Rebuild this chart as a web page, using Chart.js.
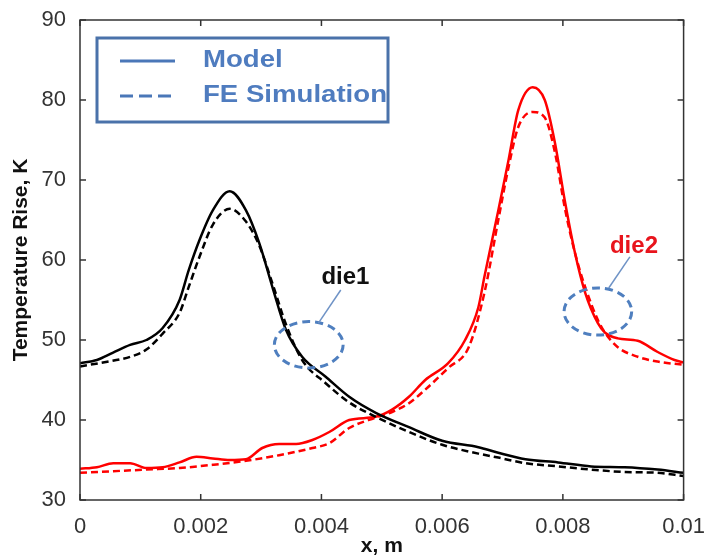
<!DOCTYPE html>
<html>
<head>
<meta charset="utf-8">
<script src="https://cdn.jsdelivr.net/npm/chart.js@4"></script>
<style>
  body { margin: 0; background: #fff; }
  canvas { display: block; }
</style>
</head>
<body>
<canvas id="myChart" width="711" height="559"></canvas>
<script>
// die1 - model (solid) and FE simulation (dashed)
var die1ModelX = [0, 0.00028, 0.00054, 0.00083, 0.0011, 0.00137, 0.00165, 0.0018, 0.00198, 0.0022, 0.00248, 0.00275, 0.00297, 0.0032, 0.00341, 0.00368, 0.00407, 0.00446, 0.0049, 0.00545, 0.006, 0.0066, 0.00693, 0.00738, 0.00792, 0.00847, 0.00902, 0.00957, 0.01];
var die1ModelY = [47.1, 47.5, 48.4, 49.4, 50.0, 51.5, 55.0, 58.7, 62.5, 66.2, 68.6, 66.2, 62.1, 56.3, 51.3, 47.9, 45.4, 42.9, 40.9, 39.1, 37.4, 36.6, 35.9, 35.1, 34.7, 34.2, 34.1, 33.8, 33.4];
var die1FeX = [0, 0.00054, 0.00083, 0.0011, 0.00137, 0.00165, 0.0018, 0.00198, 0.0022, 0.00248, 0.00275, 0.00297, 0.0032, 0.00341, 0.00368, 0.00407, 0.00446, 0.0049, 0.00545, 0.006, 0.0066, 0.00693, 0.00738, 0.00792, 0.00847, 0.00902, 0.00957, 0.01];
var die1FeY = [46.7, 47.4, 47.9, 48.8, 50.8, 53.4, 56.6, 60.4, 64.4, 66.4, 64.8, 61.8, 56.8, 52.0, 47.5, 44.6, 42.2, 40.4, 38.5, 36.9, 35.8, 35.3, 34.6, 34.2, 33.8, 33.5, 33.4, 33.0];

// die2
var die2ModelX = [0, 0.00028, 0.00055, 0.00083, 0.0011, 0.00137, 0.00165, 0.00193, 0.0022, 0.00248, 0.00275, 0.00302, 0.0033, 0.00358, 0.00385, 0.00413, 0.00446, 0.0049, 0.00517, 0.00545, 0.00572, 0.0061, 0.00638, 0.0066, 0.0067, 0.00693, 0.0071, 0.00726, 0.0075, 0.0077, 0.00787, 0.00803, 0.0082, 0.00837, 0.00858, 0.0087, 0.00891, 0.00924, 0.00957, 0.00985, 0.01];
var die2ModelY = [33.9, 34.1, 34.6, 34.6, 34.0, 34.1, 34.7, 35.4, 35.2, 35.0, 35.1, 36.5, 37.0, 37.0, 37.5, 38.5, 40.0, 40.4, 41.3, 42.9, 45.0, 47.1, 50.0, 54.1, 57.9, 66.2, 72.5, 78.7, 81.6, 80.0, 74.6, 67.5, 60.9, 55.9, 52.1, 50.9, 50.2, 49.9, 48.5, 47.5, 47.2];
var die2FeX = [0, 0.00055, 0.0011, 0.00165, 0.0022, 0.00275, 0.0033, 0.00385, 0.00413, 0.00446, 0.0049, 0.00517, 0.00545, 0.00572, 0.0061, 0.00644, 0.0067, 0.00693, 0.0071, 0.00726, 0.0075, 0.0077, 0.00787, 0.00803, 0.0082, 0.00837, 0.00858, 0.0087, 0.00891, 0.00924, 0.00957, 0.01];
var die2FeY = [33.4, 33.6, 33.8, 34.0, 34.4, 34.9, 35.6, 36.5, 37.1, 39.0, 40.3, 41.0, 42.1, 43.8, 46.5, 49.1, 55.9, 65.0, 71.6, 76.6, 78.5, 77.8, 73.4, 66.6, 60.9, 56.6, 52.5, 50.9, 49.1, 47.9, 47.3, 46.9];

var xTicks = [0, 0.002, 0.004, 0.006, 0.008, 0.01];
var yTicks = [30, 40, 50, 60, 70, 80, 90];
var legendLabels = ["Model", "FE Simulation"];
var dieLabels = ["die1", "die2"];

function toPoints(xs, ys) {
    return xs.map(function (x, i) { return { x: x, y: ys[i] }; });
}

function series(label, xs, ys, color, dashed) {
    return {
        label: label,
        data: toPoints(xs, ys),
        borderColor: color,
        backgroundColor: color,
        borderWidth: 2.5,
        borderDash: dashed ? [7, 4] : [],
        pointRadius: 0,
        cubicInterpolationMode: "monotone",
        fill: false,
    };
}

// box with inward ticks, callouts and the legend, drawn on top
var decorations = {
    id: "decorations",
    afterDatasetsDraw: function (chart) {
        var ctx = chart.ctx;
        var a = chart.chartArea;
        var sx = chart.scales.x, sy = chart.scales.y;
        ctx.save();

        // frame
        ctx.strokeStyle = "#333";
        ctx.lineWidth = 1.5;
        ctx.setLineDash([]);
        ctx.strokeRect(a.left, a.top, a.right - a.left, a.bottom - a.top);
        ctx.beginPath();
        xTicks.forEach(function (v) {
            var p = sx.getPixelForValue(v);
            ctx.moveTo(p, a.bottom); ctx.lineTo(p, a.bottom - 6);
            ctx.moveTo(p, a.top); ctx.lineTo(p, a.top + 6);
        });
        yTicks.forEach(function (v) {
            var p = sy.getPixelForValue(v);
            ctx.moveTo(a.left, p); ctx.lineTo(a.left + 6, p);
            ctx.moveTo(a.right, p); ctx.lineTo(a.right - 6, p);
        });
        ctx.stroke();

        // callout ellipses + leader lines
        var blue = "#4f7fbf";
        function ellipse(cx, cy, rx, ry) {
            var px = sx.getPixelForValue(cx), py = sy.getPixelForValue(cy);
            var rpx = sx.getPixelForValue(cx + rx) - px;
            var rpy = py - sy.getPixelForValue(cy + ry);
            ctx.beginPath();
            ctx.strokeStyle = blue;
            ctx.lineWidth = 3;
            ctx.setLineDash([8, 5]);
            ctx.ellipse(px, py, rpx, rpy, 0, 0, Math.PI * 2);
            ctx.stroke();
        }
        function leader(x1, y1, x2, y2) {
            ctx.beginPath();
            ctx.setLineDash([]);
            ctx.strokeStyle = "#6f93c6";
            ctx.lineWidth = 1.5;
            ctx.moveTo(sx.getPixelForValue(x1), sy.getPixelForValue(y1));
            ctx.lineTo(sx.getPixelForValue(x2), sy.getPixelForValue(y2));
            ctx.stroke();
        }
        ellipse(0.00379, 49.4, 0.00057, 2.9);
        leader(0.00395, 52.1, 0.00432, 56.25);
        ellipse(0.00858, 53.56, 0.00056, 2.95);
        leader(0.00876, 56.5, 0.00911, 60.4);

        ctx.font = "bold 24px 'Liberation Sans', Arial, sans-serif";
        ctx.textBaseline = "alphabetic";
        ctx.textAlign = "left";
        ctx.fillStyle = "#111";
        ctx.fillText(dieLabels[0], sx.getPixelForValue(0.0040), sy.getPixelForValue(57.0));
        ctx.fillStyle = "#e8141c";
        ctx.fillText(dieLabels[1], sx.getPixelForValue(0.00878), sy.getPixelForValue(60.9));

        // legend box
        var lx = a.left + 17, ly = a.top + 18;
        ctx.setLineDash([]);
        ctx.fillStyle = "#fff";
        ctx.fillRect(lx, ly, 291, 84);
        ctx.strokeStyle = "#4a72aa";
        ctx.lineWidth = 3;
        ctx.strokeRect(lx, ly, 291, 84);
        ctx.strokeStyle = "#4a77b8";
        ctx.beginPath();
        ctx.moveTo(lx + 23, ly + 23); ctx.lineTo(lx + 78, ly + 23);
        ctx.stroke();
        ctx.setLineDash([13, 6]);
        ctx.beginPath();
        ctx.moveTo(lx + 23, ly + 58); ctx.lineTo(lx + 80, ly + 58);
        ctx.stroke();
        ctx.setLineDash([]);
        ctx.fillStyle = "#4f7cbf";
        ctx.font = "bold 23px 'Liberation Sans', Arial, sans-serif";
        ctx.textBaseline = "middle";
        legendLabels.forEach(function (t, i) {
            ctx.save();
            ctx.translate(lx + 106, ly + 23 + i * 35);
            ctx.scale(1.2, 1);
            ctx.fillText(t, 0, 0);
            ctx.restore();
        });
        ctx.restore();
    },
};

var ctx = document.getElementById("myChart").getContext("2d");
var chart = new Chart(ctx, {
    type: "line",
    data: {
        datasets: [
            series("die1 Model", die1ModelX, die1ModelY, "#000", false),
            series("die1 FE Simulation", die1FeX, die1FeY, "#000", true),
            series("die2 Model", die2ModelX, die2ModelY, "#ff0000", false),
            series("die2 FE Simulation", die2FeX, die2FeY, "#ff0000", true),
        ],
    },
    options: {
        responsive: false,
        animation: false,
        devicePixelRatio: 1,
        layout: { padding: { top: 20, right: 24, left: 0, bottom: 0 } },
        plugins: {
            legend: { display: false },
            tooltip: { enabled: false },
        },
        scales: {
            x: {
                type: "linear",
                min: 0,
                max: 0.01,
                afterBuildTicks: function (scale) {
                    scale.ticks = xTicks.map(function (v) { return { value: v }; });
                },
                afterFit: function (scale) { scale.height = 59; },
                grid: { display: false },
                border: { display: false },
                ticks: {
                    color: "#333",
                    font: { size: 22, family: "'Liberation Sans', Arial, sans-serif" },
                    padding: 6,
                    maxRotation: 0,
                    callback: function (v) { return String(Number(v.toFixed(4))); },
                },
                title: {
                    display: true,
                    text: "x, m",
                    color: "#111",
                    font: { size: 21, weight: "bold", family: "'Liberation Sans', Arial, sans-serif" },
                    padding: { top: 0, bottom: 0 },
                },
            },
            y: {
                min: 30,
                max: 90,
                afterBuildTicks: function (scale) {
                    scale.ticks = yTicks.map(function (v) { return { value: v }; });
                },
                afterFit: function (scale) { scale.width = 80; },
                grid: { display: false },
                border: { display: false },
                ticks: {
                    color: "#333",
                    font: { size: 22, family: "'Liberation Sans', Arial, sans-serif" },
                    padding: 6,
                },
                title: {
                    display: true,
                    text: "Temperature Rise, K",
                    color: "#111",
                    font: { size: 21, weight: "bold", family: "'Liberation Sans', Arial, sans-serif" },
                    padding: { top: 9, bottom: 0 },
                },
            },
        },
    },
    plugins: [decorations],
});
</script>
</body>
</html>
